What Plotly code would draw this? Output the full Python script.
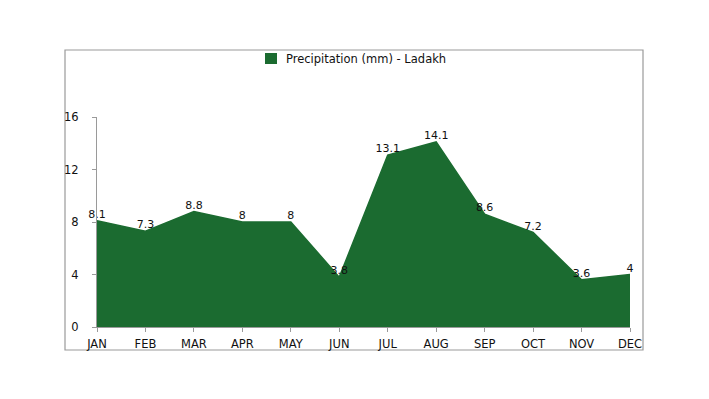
import plotly.graph_objects as go

months = ["JAN", "FEB", "MAR", "APR", "MAY", "JUN", "JUL", "AUG", "SEP", "OCT", "NOV", "DEC"]
precip = [8.1, 7.3, 8.8, 8, 8, 3.8, 13.1, 14.1, 8.6, 7.2, 3.6, 4]
series_name = "Precipitation (mm) - Ladakh"
y_ticks = [0, 4, 8, 12, 16]

green = "#1b6b30"
font_family = "DejaVu Sans, Verdana, sans-serif"

# page has an 8px body margin; work in figure coordinates
OFF = 8
W, H = 709 - OFF, 399 - OFF
L, R, T, B = 97 - OFF, 630 - OFF, 117 - OFF, 327 - OFF
pw, ph = R - L, B - T

def px(x):
    return (x - OFF - L) / pw

def py(y):
    return (B - (y - OFF)) / ph

fig = go.Figure()
fig.add_trace(go.Scatter(
    x=months, y=precip, mode="lines+text", fill="tozeroy",
    line=dict(color=green, width=1.5), fillcolor=green,
    text=[f"{v:g}" for v in precip], textposition="top center",
    textfont=dict(family=font_family, size=11, color="#111"),
    showlegend=False, cliponaxis=False,
))

# outer frame
fig.add_shape(type="rect", xref="paper", yref="paper",
              x0=px(65), x1=px(643), y0=py(350), y1=py(50),
              line=dict(color="#9a9a9a", width=1.2), layer="below")
# legend marker
fig.add_shape(type="rect", xref="paper", yref="paper",
              x0=px(265), x1=px(277), y0=py(64), y1=py(53),
              line=dict(width=0), fillcolor=green)
fig.add_annotation(xref="paper", yref="paper", x=px(284), y=py(58.5),
                   xanchor="left", yanchor="middle", showarrow=False,
                   text=series_name,
                   font=dict(family=font_family, size=11.5, color="#111"))

fig.update_layout(
    width=W, height=H,
    margin=dict(l=L, r=W - R, t=T, b=H - B),
    paper_bgcolor="white", plot_bgcolor="white",
    font=dict(family=font_family, size=11.5, color="#111"),
    showlegend=False,
    xaxis=dict(range=[0, 11], showgrid=False, zeroline=False,
               showline=True, linecolor="#9a9a9a", linewidth=1,
               ticks="outside", ticklen=4, tickcolor="#9a9a9a",
               ticklabelstandoff=2,
               tickfont=dict(size=11.5, color="#111")),
    yaxis=dict(range=[0, 16], tickvals=y_ticks, showgrid=False, zeroline=False,
               showline=True, linecolor="#9a9a9a", linewidth=1,
               ticks="outside", ticklen=4, tickcolor="#9a9a9a",
               ticklabelstandoff=11,
               tickfont=dict(size=11.5, color="#111")),
)

fig.write_html("out.html")
